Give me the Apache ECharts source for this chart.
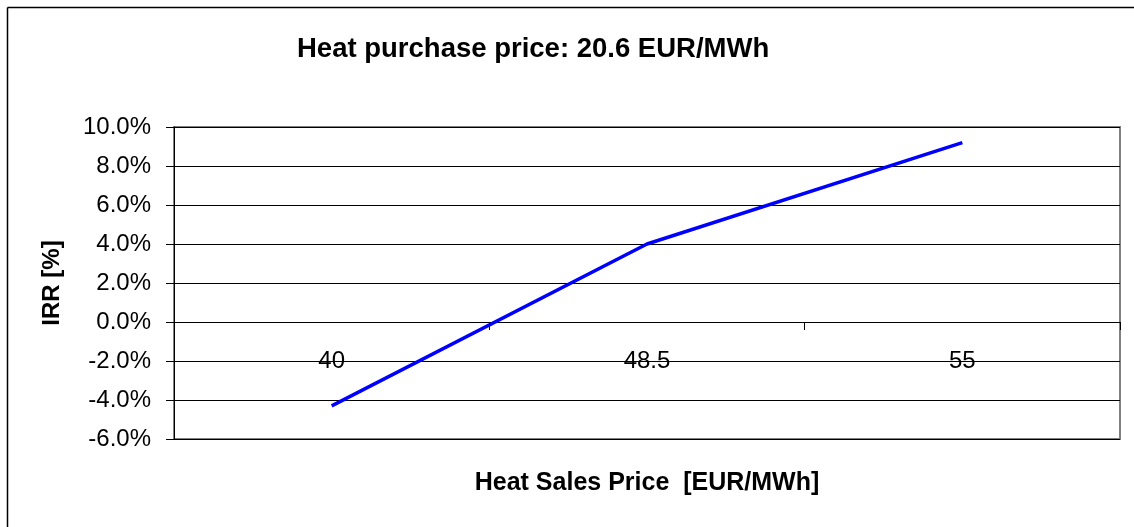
<!DOCTYPE html>
<html>
<head>
<meta charset="utf-8">
<script src="https://cdn.jsdelivr.net/npm/echarts@6/dist/echarts.min.js"></script>
<style>
  html, body { margin: 0; padding: 0; background: #fff; }
  #main { width: 1134px; height: 527px; }
</style>
</head>
<body>
<div id="main"></div>
<script>
// data
const categories = ["40", "48.5", "55"];
const irrValues = [-4.3, 4.0, 9.2]; // IRR in %
const yMin = -6;
const yMax = 10;
const yStep = 2;

const font = "'Liberation Sans', Arial, sans-serif";

var myChart = echarts.init(document.getElementById("main"));

var option = {
  backgroundColor: "#fff",
  animation: false,
  title: {
    text: "Heat purchase price: 20.6 EUR/MWh",
    left: 297,
    top: 35,
    padding: 0,
    textStyle: {
      fontFamily: font,
      fontSize: 27.5,
      fontWeight: "bold",
      color: "#000",
    },
  },
  // outer chart frame, only left and top edges are visible
  graphic: [
    {
      type: "line",
      shape: { x1: 7.5, y1: 7.5, x2: 1134, y2: 7.5 },
      style: { stroke: "#000", lineWidth: 1.5 },
      silent: true,
    },
    {
      type: "line",
      shape: { x1: 7.5, y1: 7.5, x2: 7.5, y2: 527 },
      style: { stroke: "#000", lineWidth: 1.5 },
      silent: true,
    },
  ],
  grid: {
    left: 174,
    right: 14,
    top: 127,
    bottom: 88,
    outerBoundsMode: "none",
    containLabel: false,
    show: true,
    borderColor: "#808080",
    borderWidth: 2,
    backgroundColor: "#fff",
  },
  xAxis: {
    type: "category",
    data: categories,
    boundaryGap: true,
    name: "Heat Sales Price  [EUR/MWh]",
    nameLocation: "middle",
    nameGap: 32,
    nameTextStyle: {
      fontFamily: font,
      fontSize: 25,
      fontWeight: "bold",
      color: "#000",
    },
    axisLine: { onZero: true, lineStyle: { color: "#000", width: 1 } },
    axisTick: { show: true, inside: false, length: 8, lineStyle: { color: "#000" } },
    axisLabel: {
      // labels sit just under the zero line, a row above the plot bottom
      margin: -90,
      fontFamily: font,
      fontSize: 24,
      color: "#000",
    },
    splitLine: { show: false },
  },
  yAxis: {
    type: "value",
    min: yMin,
    max: yMax,
    interval: yStep,
    name: "IRR [%]",
    nameLocation: "middle",
    nameRotate: 90,
    nameGap: 110,
    nameTextStyle: {
      fontFamily: font,
      fontSize: 24,
      fontWeight: "bold",
      color: "#000",
    },
    axisLine: { show: true, lineStyle: { color: "#000", width: 1 } },
    axisTick: { show: true, inside: false, length: 8, lineStyle: { color: "#000" } },
    axisLabel: {
      margin: 23,
      fontFamily: font,
      fontSize: 24,
      color: "#000",
      formatter: function (v) {
        return v.toFixed(1) + "%";
      },
    },
    splitLine: { show: true, lineStyle: { color: "#000", width: 1 } },
  },
  series: [
    {
      name: "IRR",
      type: "line",
      data: irrValues,
      symbol: "none",
      lineStyle: { color: "#0000ff", width: 3.5 },
      itemStyle: { color: "#0000ff" },
    },
  ],
};

myChart.setOption(option);
</script>
</body>
</html>
